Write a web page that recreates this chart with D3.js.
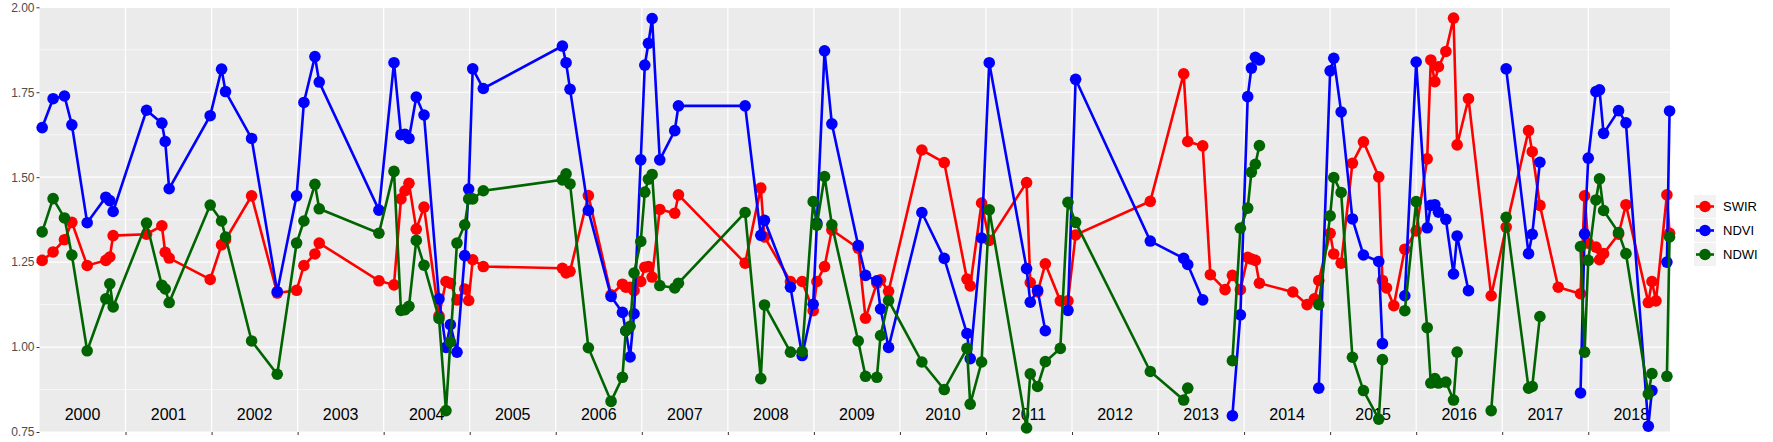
<!DOCTYPE html>
<html><head><meta charset="utf-8">
<script src="https://cdn.jsdelivr.net/npm/d3@7"></script>
<style>body{margin:0;background:#fff}</style></head>
<body><svg id="c" width="1773" height="442"></svg>
<script>
const dates=[2000.031,2000.158,2000.290,2000.376,2000.554,2000.771,2000.817,2000.856,2001.244,2001.422,2001.461,2001.507,2001.984,2002.116,2002.162,2002.465,2002.763,2002.988,2003.073,2003.201,2003.251,
2003.945,2004.120,2004.201,2004.248,2004.294,2004.379,2004.469,2004.643,2004.724,2004.775,2004.852,2004.942,2004.988,2005.035,2005.158,2006.077,2006.120,2006.166,2006.379,2006.643,
2006.775,2006.814,2006.864,2006.910,2006.988,2007.035,2007.077,2007.120,2007.209,2007.383,2007.426,2008.201,2008.383,2008.426,2008.728,2008.864,2008.992,2009.035,2009.124,2009.209,2009.515,2009.600,2009.732,2009.775,2009.868,
2010.255,2010.515,2010.779,2010.817,2010.949,2011.038,2011.472,2011.515,2011.600,2011.690,2011.864,2011.953,2012.042,2012.910,2013.298,2013.345,
2013.519,2013.608,2013.779,2013.864,2013.957,2014.042,2014.085,2014.131,2014.178,2014.566,2014.732,2014.817,2014.868,2015.000,2015.042,2015.128,2015.259,2015.387,2015.565,2015.608,2015.655,2015.740,2015.868,2016.000,2016.128,2016.170,2016.217,2016.259,2016.345,2016.434,2016.476,2016.608,
2016.872,2017.046,2017.306,2017.349,2017.438,2017.651,2017.910,2017.957,2018.000,2018.089,2018.131,2018.178,2018.352,2018.438,2018.698,2018.740,2018.787,2018.914,2018.945];
const swir=[1.255,1.280,1.316,1.367,1.240,1.255,1.265,1.328,1.332,1.357,1.279,1.262,1.199,1.301,1.316,1.445,1.159,1.167,1.240,1.274,1.306,
1.195,1.183,1.436,1.460,1.482,1.347,1.412,1.092,1.193,1.188,1.139,1.171,1.137,1.257,1.237,1.232,1.218,1.223,1.446,1.154,
1.185,1.176,1.176,1.166,1.193,1.235,1.237,1.206,1.405,1.394,1.448,1.247,1.468,1.324,1.193,1.193,1.107,1.193,1.237,1.345,1.291,1.085,1.188,1.198,1.164,
1.580,1.543,1.200,1.180,1.424,1.314,1.484,1.190,1.162,1.245,1.136,1.136,1.330,1.429,1.804,1.605,
1.592,1.213,1.169,1.211,1.169,1.264,1.259,1.255,1.188,1.162,1.125,1.142,1.196,1.335,1.274,1.247,1.541,1.604,1.501,1.196,1.174,1.122,1.288,1.342,1.554,1.845,1.781,1.825,1.870,1.968,1.595,1.731,
1.151,1.353,1.637,1.575,1.417,1.176,1.157,1.445,1.306,1.294,1.257,1.275,1.332,1.419,1.131,1.193,1.136,1.448,1.335];
const ndvi=[1.646,1.731,1.739,1.654,1.366,1.441,1.431,1.399,1.697,1.659,1.605,1.466,1.681,1.818,1.752,1.614,1.163,1.445,1.720,1.855,1.780,
1.403,1.837,1.625,1.626,1.614,1.736,1.683,1.142,0.999,1.066,0.985,1.269,1.465,1.819,1.761,1.886,1.837,1.759,1.402,1.149,
1.102,1.048,0.971,1.098,1.551,1.830,1.894,1.967,1.551,1.637,1.710,1.710,1.329,1.373,1.176,0.975,1.126,1.365,1.872,1.657,1.299,1.211,1.195,1.112,0.999,
1.396,1.261,1.040,0.966,1.321,1.837,1.231,1.132,1.167,1.048,null,1.108,1.788,1.312,1.261,1.243,
1.139,null,null,0.798,1.095,1.737,1.821,1.853,1.845,null,null,null,0.879,1.813,1.850,1.692,1.377,1.271,1.252,1.010,null,null,1.151,1.839,1.351,1.417,1.419,1.397,1.376,1.215,1.327,1.166,
null,1.819,1.275,1.332,1.544,null,0.865,1.333,1.556,1.752,1.757,1.629,1.696,1.660,0.767,0.872,null,1.250,1.695];
const ndwi=[1.339,1.437,1.380,1.271,0.989,1.142,1.186,1.118,1.365,1.182,1.171,1.131,1.418,1.371,1.324,1.018,0.920,1.306,1.371,1.479,1.407,
1.335,1.517,1.108,1.110,1.120,1.314,1.241,1.084,0.813,1.015,1.306,1.360,1.436,1.436,1.460,1.492,1.510,1.480,0.998,0.840,
0.911,1.048,1.061,1.218,1.311,1.456,1.494,1.508,1.181,1.174,1.188,1.396,0.907,1.124,0.985,0.987,1.428,1.359,1.502,1.360,1.018,0.914,0.911,1.034,1.137,
0.956,0.875,0.996,0.832,0.956,1.404,0.762,0.921,0.884,0.957,0.996,1.426,1.367,0.928,0.844,0.879,
null,null,null,0.960,1.350,1.409,1.515,1.538,1.593,null,null,null,1.125,1.386,1.499,1.455,0.970,0.872,0.788,0.963,null,null,1.107,1.428,1.057,0.894,0.907,0.894,0.897,0.844,0.985,null,
0.813,1.382,0.879,0.884,1.090,null,1.296,0.985,1.255,1.433,1.495,1.402,1.337,1.275,0.862,0.922,null,0.914,1.324];
const years=d3.range(2000,2019);
const yTicks=[0.75,1.00,1.25,1.50,1.75,2.00];
const series=[{name:"SWIR",color:"#ff0000",vals:swir},{name:"NDVI",color:"#0000ff",vals:ndvi},{name:"NDWI",color:"#006400",vals:ndwi}];

const svg=d3.select("#c");
const L=39.5,R=1670,T=7.3,B=432;
const x=d3.scaleLinear().domain([2000,2018.95]).range([L,R]);
const y=d3.scaleLinear().domain([0.75,2.0]).range([B,T]);
svg.append("rect").attr("x",L).attr("y",T).attr("width",R-L).attr("height",B-T).attr("fill","#ebebeb");
const g=svg.append("g");
d3.range(0.875,2,0.25).forEach(v=>g.append("line").attr("x1",L).attr("x2",R).attr("y1",y(v)).attr("y2",y(v)).attr("stroke","#fff").attr("stroke-width",0.6));
yTicks.forEach(v=>g.append("line").attr("x1",L).attr("x2",R).attr("y1",y(v)).attr("y2",y(v)).attr("stroke","#fff").attr("stroke-width",1.2));
years.slice(1).forEach(v=>g.append("line").attr("x1",x(v)).attr("x2",x(v)).attr("y1",T).attr("y2",B).attr("stroke","#fff").attr("stroke-width",1.2));
// axes
const ya=svg.append("g").attr("transform",`translate(${L},0)`).call(d3.axisLeft(y).tickValues(yTicks).tickFormat(d3.format(".2f")).tickSize(3).tickPadding(2));
ya.select(".domain").remove();
ya.selectAll("text").attr("fill","#4d4d4d").style("font-family","Liberation Sans, Arial").style("font-size","12px");
ya.selectAll("line").attr("stroke","#333");
const xa=svg.append("g").attr("transform",`translate(0,${B})`).call(d3.axisBottom(x).tickValues(years.slice(1)).tickFormat("").tickSize(3));
xa.select(".domain").remove();xa.selectAll("line").attr("stroke","#333");
// year labels
svg.append("g").selectAll("text").data(years).join("text").attr("x",d=>x(d+0.5)).attr("y",420)
 .attr("text-anchor","middle").style("font-family","Liberation Sans, Arial").style("font-size","16px").attr("fill","#000").text(d=>d);
// series
series.forEach(s=>{
 const pts=dates.map((d,i)=>[d,s.vals[i]]);
 svg.append("path").datum(pts).attr("fill","none").attr("stroke",s.color).attr("stroke-width",2.6)
  .attr("d",d3.line().defined(p=>p[1]!=null).x(p=>x(p[0])).y(p=>y(p[1]))(pts));
 svg.append("g").selectAll("circle").data(pts.filter(p=>p[1]!=null)).join("circle")
  .attr("cx",p=>x(p[0])).attr("cy",p=>y(p[1])).attr("r",5.8).attr("fill",s.color);
});
// legend
const lg=svg.append("g").attr("transform","translate(1694,195)");
series.forEach((s,i)=>{
 const gy=i*24;
 lg.append("rect").attr("x",0).attr("y",gy).attr("width",22).attr("height",23).attr("fill","#f2f2f2");
 lg.append("line").attr("x1",2).attr("x2",20).attr("y1",gy+11.5).attr("y2",gy+11.5).attr("stroke",s.color).attr("stroke-width",2.6);
 lg.append("circle").attr("cx",11).attr("cy",gy+11.5).attr("r",5.8).attr("fill",s.color);
 lg.append("text").attr("x",29).attr("y",gy+16).style("font-family","Liberation Sans, Arial").style("font-size","13px").text(s.name);
});
</script></body></html>
